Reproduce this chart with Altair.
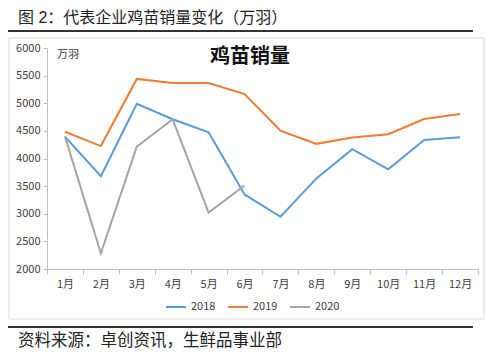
import altair as alt
import pandas as pd

months = ['1月', '2月', '3月', '4月', '5月', '6月', '7月', '8月', '9月', '10月', '11月', '12月']
s2018 = [4395, 3680, 4990, 4710, 4475, 3350, 2945, 3640, 4170, 3805, 4335, 4385]
s2019 = [4485, 4225, 5440, 5365, 5365, 5165, 4505, 4265, 4380, 4440, 4715, 4805]
s2020 = [4400, 2285, 4215, 4710, 3020, 3510]
series = ['2018', '2019', '2020']
colors = ['#5b9bd5', '#ed7d31', '#a5a5a5']

rows = []
for name, vals in zip(series, [s2018, s2019, s2020]):
    for m, v in zip(months, vals):
        rows.append({'month': m, 'value': v, 'series': name})
df = pd.DataFrame(rows)

FONT = 'Noto Sans CJK SC'
HFONT = "'Liberation Sans', 'Noto Sans CJK SC'"
W, H = 431, 221

lines = alt.Chart(df).mark_line(strokeWidth=2, clip=False).encode(
    x=alt.X('month:N', sort=months, bandPosition=0.5,
            scale=alt.Scale(type='band', paddingInner=0, paddingOuter=0),
            axis=alt.Axis(title=None, labelAngle=0, tickBand='extent', domainColor='#bfbfbf',
                          tickColor='#bfbfbf', tickSize=5, labelColor='#404040', labelFontSize=11,
                          labelFont=FONT, labelPadding=4)),
    y=alt.Y('value:Q', scale=alt.Scale(domain=[2000, 6000], nice=False),
            axis=alt.Axis(title=None, values=list(range(2000, 6001, 500)), grid=False, format='d',
                          domainColor='#bfbfbf', tickColor='#bfbfbf', tickSize=4,
                          labelColor='#404040', labelFontSize=11, labelFont=FONT, labelPadding=3)),
    color=alt.Color('series:N', scale=alt.Scale(domain=series, range=colors),
                    legend=alt.Legend(title=None, orient='none', direction='horizontal',
                                      legendX=118, legendY=248, symbolType='stroke',
                                      symbolSize=400, symbolStrokeWidth=2, labelFontSize=11,
                                      labelFont=FONT, labelColor='#404040', columnPadding=8)),
)

def text(t, x, y, size, weight='normal', color='#222222', align='left', font=FONT):
    return alt.Chart(pd.DataFrame({'t': [t]})).mark_text(
        fontSize=size, font=font, fontWeight=weight, color=color, align=align,
        baseline='middle', clip=False
    ).encode(text='t:N', x=alt.value(x), y=alt.value(y))

def rule(x1, x2, y, color, width):
    return alt.Chart(pd.DataFrame({'a': [0]})).mark_rule(
        color=color, strokeWidth=width, clip=False
    ).encode(x=alt.value(x1), x2=alt.value(x2), y=alt.value(y))

frame = alt.Chart(pd.DataFrame({'a': [0]})).mark_rect(
    fillOpacity=0, stroke='#d9d9d9', strokeWidth=1, clip=False
).encode(x=alt.value(-38), x2=alt.value(437), y=alt.value(-10), y2=alt.value(271))

chart = alt.layer(
    frame,
    text('图 2：代表企业鸡苗销量变化（万羽）', -29, -30, 16, font=HFONT),
    rule(-39, 426, -17, '#333333', 2),
    text('鸡苗销量', 203, 9, 20, 'bold', '#111111', 'center'),
    text('万羽', 10, 7, 11, 'normal', '#404040'),
    lines,
    rule(-39, 426, 279, '#333333', 2),
    text('资料来源：卓创资讯，生鲜品事业部', -29, 292.5, 16.5, font=HFONT),
).properties(
    width=W, height=H,
    autosize=alt.AutoSizeParams(type='none'),
    padding={'left': 39, 'top': 40, 'right': 14, 'bottom': 81},
    background='white',
).configure_view(strokeWidth=0)

chart.save("out.html", embed_options={"renderer": "svg", "actions": False})
